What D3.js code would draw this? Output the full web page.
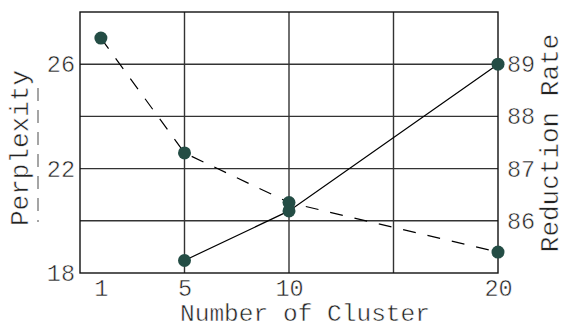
<!DOCTYPE html>
<html><head><meta charset="utf-8">
<script src="https://cdn.jsdelivr.net/npm/d3@7"></script>
<style>body{margin:0;background:#fff}svg{display:block}</style>
</head><body>
<svg id="c" width="568" height="327"></svg>
<script>
const clusters = [1, 5, 10, 20];
const perplexity = [27.0, 22.6, 20.7, 18.8];
const reductionX = [5, 10, 20];
const reductionRate = [85.24, 86.19, 89.0];
const xTicks = [1, 5, 10, 20];
const xGrid = [5, 10, 15];
const leftTicks = [18, 22, 26];
const leftGrid = [20, 22, 24, 26];
const rightTicks = [86, 87, 88, 89];

const font = "Liberation Mono, DejaVu Sans Mono, monospace";
const txtCol = "#222";
const svg = d3.select("#c");
const m = {l: 80, r: 498, t: 12, b: 273};
const x = d3.scaleLinear().domain([0, 20]).range([m.l, m.r]);
const yL = d3.scaleLinear().domain([18, 28]).range([m.b, m.t]);
const yR = d3.scaleLinear().domain([85, 90]).range([m.b, m.t]);

function thin(sel) {
  return sel.attr("font-family", font).attr("fill", txtCol)
    .attr("stroke", "#fff").attr("stroke-width", 0.5).attr("paint-order", "normal");
}

const g = svg.append("g");
g.selectAll(".hg").data(leftGrid).join("line")
  .attr("x1", m.l).attr("x2", m.r).attr("y1", d => yL(d)).attr("y2", d => yL(d))
  .attr("stroke", "#333").attr("stroke-width", 1.4);
g.selectAll(".vg").data(xGrid).join("line")
  .attr("y1", m.t).attr("y2", m.b).attr("x1", d => x(d)).attr("x2", d => x(d))
  .attr("stroke", "#333").attr("stroke-width", 1.4);
g.append("rect").attr("x", m.l).attr("y", m.t).attr("width", m.r - m.l).attr("height", m.b - m.t)
  .attr("fill", "none").attr("stroke", "#111").attr("stroke-width", 1.4);

const axB = d3.axisBottom(x).tickValues(xTicks).tickSize(0).tickPadding(6).tickFormat(d3.format("d"));
const axL = d3.axisLeft(yL).tickValues(leftTicks).tickSize(0).tickPadding(5).tickFormat(d3.format("d"));
const axR = d3.axisRight(yR).tickValues(rightTicks).tickSize(0).tickPadding(9).tickFormat(d3.format("d"));
[[axB, `translate(0,${m.b})`], [axL, `translate(${m.l},0)`], [axR, `translate(${m.r},0)`]].forEach(([ax, tr]) => {
  const a = svg.append("g").attr("transform", tr).call(ax);
  a.select(".domain").remove();
  thin(a.selectAll("text")).attr("font-size", 23.5);
});

const lineL = d3.line().x((d, i) => x(clusters[i])).y(d => yL(d));
svg.append("path").attr("d", lineL(perplexity)).attr("fill", "none")
  .attr("stroke", "#000").attr("stroke-width", 1.2).attr("stroke-dasharray", "13,12");
const lineR = d3.line().x((d, i) => x(reductionX[i])).y(d => yR(d));
svg.append("path").attr("d", lineR(reductionRate)).attr("fill", "none")
  .attr("stroke", "#000").attr("stroke-width", 1.2);

const col = "#244d45";
svg.selectAll(".pp").data(perplexity).join("circle")
  .attr("cx", (d, i) => x(clusters[i])).attr("cy", d => yL(d)).attr("r", 6.5).attr("fill", col);
svg.selectAll(".rp").data(reductionRate).join("circle")
  .attr("cx", (d, i) => x(reductionX[i])).attr("cy", d => yR(d)).attr("r", 6.5).attr("fill", col);

thin(svg.append("text").attr("x", 305).attr("y", 321).attr("text-anchor", "middle"))
  .attr("font-size", 24.5).text("Number of Cluster");
thin(svg.append("text").attr("transform", "translate(28,148) rotate(-90)").attr("text-anchor", "middle"))
  .attr("font-size", 26).text("Perplexity");
svg.append("line").attr("x1", 38).attr("x2", 38).attr("y1", 88).attr("y2", 222)
  .attr("stroke", "#888").attr("stroke-width", 1.5).attr("stroke-dasharray", "13,9");
thin(svg.append("text").attr("transform", "translate(558,143) rotate(-90)").attr("text-anchor", "middle"))
  .attr("font-size", 26).text("Reduction Rate");
</script>
</body></html>
